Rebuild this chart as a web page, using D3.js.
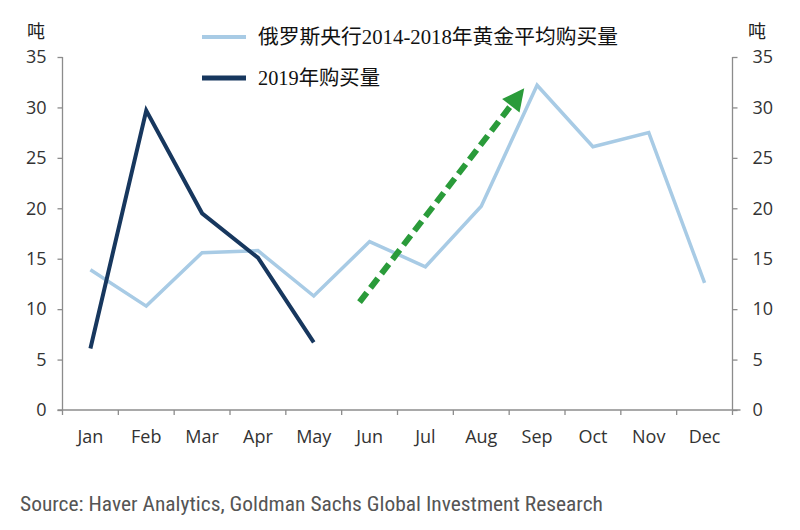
<!DOCTYPE html>
<html><head><meta charset="utf-8">
<script src="https://cdn.jsdelivr.net/npm/d3@7"></script>
<style>body{margin:0;background:#fff}svg{display:block}</style>
</head><body>
<svg id="c" width="800" height="530"></svg>
<script>
const months = ["Jan","Feb","Mar","Apr","May","Jun","Jul","Aug","Sep","Oct","Nov","Dec"];
const avg2014_2018 = [13.9,10.3,15.6,15.8,11.3,16.7,14.2,20.2,32.2,26.1,27.5,12.6];
const buy2019 = [6.1,29.7,19.5,15.1,6.7];
const yTicks = [0,5,10,15,20,25,30,35];
const legendNames = ["俄罗斯央行2014-2018年黄金平均购买量","2019年购买量"];
const unitLabel = "吨";
const sourceText = "Source: Haver Analytics, Goldman Sachs Global Investment Research";
// trend arrow annotation, in (month index, value) units
const arrowFrom = [4.82,10.7];
const arrowTo = [7.77,31.9];

const svg = d3.select("#c");
const L = 62.5, R = 732.5, T = 57, B = 410;
const x = d3.scaleBand().domain(months).range([L,R]);
const xi = d3.scaleLinear().domain([0,11]).range([x(months[0])+x.bandwidth()/2, x(months[11])+x.bandwidth()/2]);
const y = d3.scaleLinear().domain([0,35]).range([B,T]);

const axisColor = "#8c8c8c";
const tickFont = "'Open Sans', 'DejaVu Sans', sans-serif";

// left axis
const la = svg.append("g").attr("transform",`translate(${L},0)`)
  .call(d3.axisLeft(y).tickValues(yTicks).tickSize(5).tickSizeOuter(0).tickPadding(11));
// right axis
const ra = svg.append("g").attr("transform",`translate(${R},0)`)
  .call(d3.axisRight(y).tickValues(yTicks).tickSize(5).tickSizeOuter(0).tickPadding(15));
[la,ra].forEach(g=>{
  g.select(".domain").remove();
  g.selectAll(".tick line").attr("stroke",axisColor).attr("stroke-width",1.3);
  g.selectAll(".tick text").attr("fill","#333").style("font-family",tickFont).style("font-size","18px");
});
svg.append("line").attr("x1",L).attr("x2",L).attr("y1",y(35)).attr("y2",B+5).attr("stroke",axisColor).attr("stroke-width",1.3);
svg.append("line").attr("x1",R).attr("x2",R).attr("y1",y(35)).attr("y2",B+5).attr("stroke",axisColor).attr("stroke-width",1.3);

// x axis
const xa = svg.append("g").attr("transform",`translate(0,${B})`)
  .call(d3.axisBottom(x).tickSize(0).tickPadding(20));
xa.select(".domain").remove();
xa.selectAll(".tick text").attr("fill","#333").style("font-family",tickFont).style("font-size","18px");
svg.append("line").attr("x1",L-5).attr("x2",R+8).attr("y1",B).attr("y2",B).attr("stroke",axisColor).attr("stroke-width",1.3);
svg.append("g").selectAll("line").data(months.slice(1)).join("line")
  .attr("x1",d=>x(d)).attr("x2",d=>x(d)).attr("y1",B).attr("y2",B+5)
  .attr("stroke",axisColor).attr("stroke-width",1.3);

// unit labels
svg.append("text").attr("x",36).attr("y",38).attr("text-anchor","middle")
  .style("font-family","'Noto Sans CJK SC', sans-serif").style("font-size","18px").attr("fill","#222").text(unitLabel);
svg.append("text").attr("x",757).attr("y",38).attr("text-anchor","middle")
  .style("font-family","'Noto Sans CJK SC', sans-serif").style("font-size","18px").attr("fill","#222").text(unitLabel);

// lines
const line = d3.line().x((d,i)=>x(months[i])+x.bandwidth()/2).y(d=>y(d));
svg.append("path").datum(avg2014_2018).attr("d",line).attr("fill","none")
  .attr("stroke","#a8cbe5").attr("stroke-width",3.5).attr("stroke-linejoin","miter");
svg.append("path").datum(buy2019).attr("d",line).attr("fill","none")
  .attr("stroke","#17375e").attr("stroke-width",4).attr("stroke-linejoin","miter");

// trend arrow
const green = "#2a9b3a";
const x0 = xi(arrowFrom[0]), y0 = y(arrowFrom[1]), x1 = xi(arrowTo[0]), y1 = y(arrowTo[1]);
const ang = Math.atan2(y1-y0, x1-x0);
const headLen = 22, headW = 11;
const bx = x1 - headLen*Math.cos(ang), by = y1 - headLen*Math.sin(ang);
svg.append("line").attr("x1",x0).attr("y1",y0).attr("x2",bx).attr("y2",by)
  .attr("stroke",green).attr("stroke-width",6).attr("stroke-dasharray","12,6");
const px = -Math.sin(ang), py = Math.cos(ang);
svg.append("path").attr("d",`M${x1},${y1}L${bx+px*headW},${by+py*headW}L${bx-px*headW},${by-py*headW}Z`).attr("fill",green);

// legend
const legColors = ["#a8cbe5","#17375e"];
const legY = [37,78];
const legLen = [360,122];
legendNames.forEach((n,i)=>{
  svg.append("line").attr("x1",202).attr("x2",246).attr("y1",legY[i]).attr("y2",legY[i])
    .attr("stroke",legColors[i]).attr("stroke-width",i?5:4);
  svg.append("text").attr("x",258).attr("y",legY[i]+7)
    .style("font-family","'Liberation Serif','Noto Sans CJK SC', serif").style("font-size","20px")
    .attr("textLength",legLen[i]).attr("lengthAdjust","spacingAndGlyphs")
    .attr("fill","#111").text(n);
});

// source
svg.append("text").attr("x",20).attr("y",511)
  .style("font-family","'Liberation Sans Narrow','Roboto Condensed','Liberation Sans',sans-serif").style("font-size","21px")
  .attr("fill","#555").attr("textLength",583).attr("lengthAdjust","spacingAndGlyphs").text(sourceText);
</script>
</body></html>
